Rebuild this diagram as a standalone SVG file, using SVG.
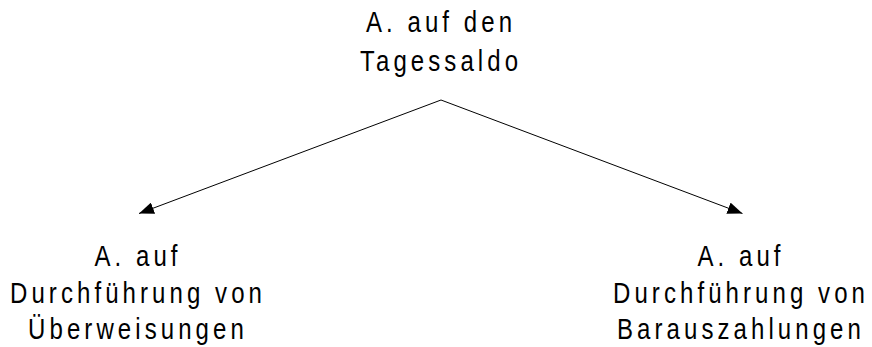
<svg xmlns="http://www.w3.org/2000/svg" width="872" height="347" viewBox="0 0 872 347">
  <defs>
    <style>
      text { font-family: "Liberation Sans", Arial, sans-serif; font-size: 30px; fill: #000; text-anchor: middle; letter-spacing: 5.1px; }
      .conn { stroke: #000; stroke-width: 1; fill: none; }
    </style>
    <marker id="arrow" viewBox="0 0 15 12" refX="15" refY="6" markerWidth="15" markerHeight="12" markerUnits="userSpaceOnUse" orient="auto">
      <path d="M0,0 L15,6 L0,12 Z" fill="#000"/>
    </marker>
  </defs>
  <rect width="872" height="347" fill="#fff"/>
  <g id="connectors">
    <line class="conn" x1="441" y1="100" x2="139" y2="213.5" marker-end="url(#arrow)"/>
    <line class="conn" x1="441" y1="100" x2="742.5" y2="213.5" marker-end="url(#arrow)"/>
  </g>
  <g id="node-top" transform="translate(441,0) scale(0.8,1)">
    <text x="0" y="32">A. auf den</text>
    <text x="0" y="71">Tagessaldo</text>
  </g>
  <g id="node-left" transform="translate(138,0) scale(0.8,1)">
    <text x="0" y="266">A. auf</text>
    <text x="0" y="303">Durchführung von</text>
    <text x="0" y="339">Überweisungen</text>
  </g>
  <g id="node-right" transform="translate(741,0) scale(0.8,1)">
    <text x="0" y="266">A. auf</text>
    <text x="0" y="303">Durchführung von</text>
    <text x="0" y="339">Barauszahlungen</text>
  </g>
</svg>
